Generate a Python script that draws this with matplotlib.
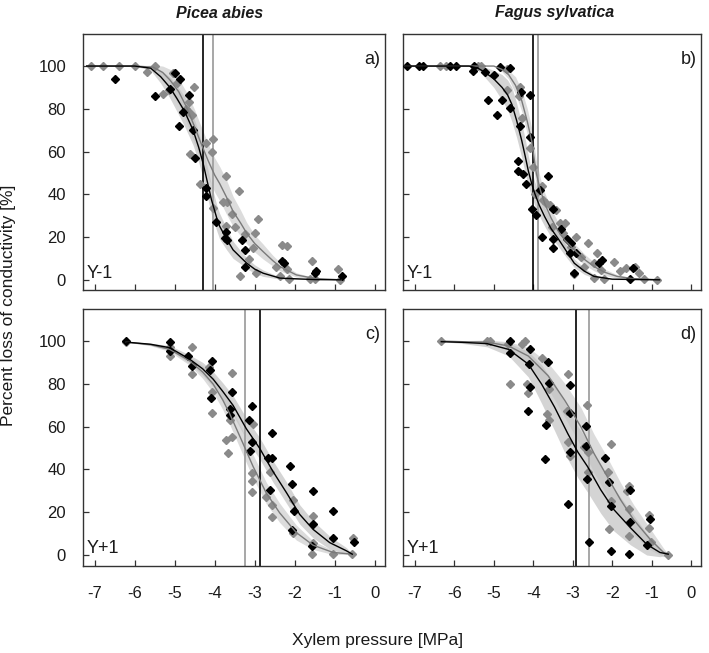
import matplotlib
matplotlib.use("Agg")
import matplotlib.pyplot as plt

plt.rcParams['font.family'] = ['Liberation Sans', 'DejaVu Sans']
plt.rcParams['axes.unicode_minus'] = False

# ---------------- data ----------------
species = ["Picea abies", "Fagus sylvatica"]
panel_letters = ["a)", "b)", "c)", "d)"]
panel_years = ["Y-1", "Y-1", "Y+1", "Y+1"]
x_ticks = [-7, -6, -5, -4, -3, -2, -1, 0]
y_ticks = [0, 20, 40, 60, 80, 100]

# panel a (Picea abies, Y-1)
a_black_x = [-6.5, -5.5, -4.88, -4.65, -4.78, -4.89, -4.54, -4.5, -4.22, -4.22, -3.96, -3.71, -3.75, -3.68,
             -3.32, -3.25, -3.25, -2.31, -2.27, -1.46, -1.5, -0.83, -5.12, -5.0]
a_black_y = [94, 86, 94, 86.4, 78.7, 72, 70, 57, 43, 39, 27, 22.6, 19.5, 18.5,
             18.7, 14, 6.2, 8.9, 7.8, 3.9, 3.1, 1.6, 89.5, 96.6]
a_gray_x = [-7.1, -6.8, -6.4, -6.0, -5.7, -5.5, -5.29, -5.14, -5.04, -4.95, -4.525, -4.65, -4.72, -4.67,
            -4.58, -4.62, -4.22, -4.04, -4.08, -4.375, -3.71, -3.39, -4.04, -3.8, -3.68, -3.58, -3.72,
            -3.5, -3.25, -3.0, -2.92, -3.04, -3.15, -3.37, -2.96, -2.31, -2.2, -2.2, -2.46, -2.37,
            -2.15, -1.58, -1.62, -1.5, -0.93, -0.87]
a_gray_y = [100, 100, 100, 100, 97, 100, 87, 89, 96.6, 92, 90, 83, 80, 79,
            77, 59, 64, 65.7, 60, 45, 48.8, 41.6, 33.5, 36.6, 36.6, 30.7, 25,
            24.5, 21.5, 22, 28.5, 14.8, 9.7, 2, 3.1, 16.4, 15.6, 5, 6.2, 1.6,
            0.5, 8.6, 0.2, 0.4, 5, 0]
a_fit_black_x = [-7.2, -6.0, -5.6, -5.35, -5.12, -4.95, -4.75, -4.54, -4.4, -4.29, -4.18, -4.08, -3.95,
                 -3.875, -3.7, -3.54, -3.35, -3.2, -3.0, -2.79, -2.37, -1.5, -0.85]
a_fit_black_y = [100, 100, 99, 95, 90, 85, 78.7, 70, 62, 54.5, 45.5, 37.4, 29,
                 25, 19, 14, 10.5, 7.8, 5, 3.1, 0.8, 0.1, 0]
a_ci_black = [0, 0, 1, 3, 5, 6, 7, 7, 7, 7, 7, 7, 6, 6, 5, 4, 3, 2.5, 2, 1.5, 0.5, 0, 0]
a_fit_gray_x = [-7.2, -6.0, -5.54, -5.3, -5.12, -4.9, -4.71, -4.5, -4.375, -4.17, -4.0, -3.875, -3.7,
                -3.54, -3.35, -3.2, -3.0, -2.79, -2.55, -2.37, -1.96, -1.5, -0.85]
a_fit_gray_y = [100, 100, 99.5, 97, 93.5, 88, 81, 71.5, 65.4, 56, 49, 45, 38.5,
                32, 26.5, 21.8, 17, 13.2, 9, 6.2, 2.3, 0.6, 0]
a_ci_gray = [0, 0, 1, 3, 5, 6, 7, 8, 8, 8, 8, 8, 8, 7, 6, 5, 4, 3.5, 2.5, 2, 1, 0.3, 0]
a_p50_black = -4.29
a_p50_gray = -4.04

# panel b (Fagus sylvatica, Y-1)
b_black_x = [-7.19, -6.9, -6.8, -6.1, -5.95, -5.5, -5.525, -5.21, -5.0, -4.83, -4.58, -4.31, -4.08,
             -5.14, -4.93, -4.78, -4.58, -4.33, -4.08, -4.375, -4.375, -4.25, -4.19, -4.04, -3.83,
             -3.625, -3.92, -3.79, -3.5, -3.29, -3.5, -3.5, -3.14, -3.04, -3.08, -2.92, -2.96,
             -2.25, -2.33, -1.475, -1.54]
b_black_y = [100, 100, 100, 100, 100, 100, 97.7, 97.4, 96, 99.5, 99.2, 88, 86.5,
             84, 77.2, 84, 80.6, 72, 66.7, 55.8, 51, 49.6, 44.6, 33.3, 41.9,
             48.5, 30.2, 20.2, 33.3, 24, 18.9, 14.7, 18.9, 17, 12.7, 12.4, 3.1,
             9.3, 7.75, 5.4, 0.3]
b_gray_x = [-6.35, -6.2, -5.4, -5.33, -4.67, -4.67, -4.33, -4.35, -4.275, -4.07, -4.0, -3.96, -3.79,
            -3.75, -3.67, -3.58, -3.42, -3.52, -3.33, -3.2, -3.25, -2.92, -3.04, -2.625, -2.79,
            -2.71, -2.98, -2.375, -2.46, -2.29, -2.46, -2.2, -1.96, -1.64, -1.42, -1.33, -1.79,
            -0.875, -1.2]
b_gray_y = [100, 100, 100, 100, 98.4, 89, 90, 86, 75.6, 61.7, 52.7, 40.3, 43.7,
            37.2, 36, 35, 32.6, 24.8, 26.7, 26.4, 22, 19.8, 15.5, 17.4, 10.9,
            6.2, 2.8, 12.7, 7.75, 4.65, 0.8, 0.3, 8.5, 5.7, 6.2, 3.1, 3.9,
            0, 0.5]
b_fit_black_x = [-7.25, -5.625, -5.4, -5.21, -5.0, -4.79, -4.65, -4.54, -4.42, -4.29, -4.2, -4.125,
                 -4.04, -3.96, -3.85, -3.71, -3.55, -3.375, -3.2, -2.96, -2.7, -2.46, -2.0, -0.8]
b_fit_black_y = [100, 100, 99, 96.9, 94, 90, 86.5, 82, 74.5, 65, 57.5, 51,
                 45, 40.3, 35, 29.5, 24, 19.4, 14.5, 7.75, 4, 1.6, 0.3, 0]
b_ci_black = [0, 0, 1, 2.5, 4, 6, 7, 8, 8, 8, 8, 7, 6, 5.5, 5, 4.5, 4, 3.5, 3, 2, 1.5, 0.8, 0.2, 0]
b_fit_gray_x = [-7.25, -5.0, -4.8, -4.625, -4.45, -4.29, -4.15, -4.04, -3.98, -3.92, -3.82, -3.71,
                -3.55, -3.375, -3.2, -2.96, -2.7, -2.46, -2.2, -1.875, -1.5, -0.8]
b_fit_gray_y = [100, 100, 98.5, 96, 91, 83.7, 74, 65, 57, 49.6, 42, 35.7,
                29, 23, 18.5, 14, 9.5, 6.2, 3.6, 1.6, 0.6, 0]
b_ci_gray = [0, 0, 1, 2, 4, 5, 6, 6, 6, 6, 5.5, 5, 4.5, 4, 3.5, 3, 2.5, 2, 1.5, 0.8, 0.3, 0]
b_p50_black = -4.0
b_p50_gray = -3.89

# panel c (Picea abies, Y+1)
c_black_x = [-6.21, -5.125, -5.11, -4.67, -4.58, -4.06, -4.11, -3.58, -4.1, -3.625, -3.61, -3.08,
             -3.14, -3.08, -3.125, -2.58, -2.67, -2.58, -2.625, -2.11, -2.06, -2.02, -2.06,
             -1.54, -1.54, -1.58, -1.04, -1.04, -0.525]
c_black_y = [100, 99.7, 95.4, 93, 88.4, 90.7, 86.4, 76.4, 73.4, 68.3, 65.2, 69.4,
             63.2, 52.9, 48.7, 57, 45.1, 45.1, 30.1, 41.7, 33.1, 20.4, 11.6,
             29.7, 14.2, 4.2, 20.4, 8.0, 6.0]
c_gray_x = [-6.21, -5.11, -5.125, -4.57, -4.58, -4.14, -3.58, -4.08, -4.06, -3.625, -3.725, -3.575,
            -3.67, -3.04, -3.08, -3.06, -3.08, -2.625, -2.71, -2.56, -2.56, -2.04, -2.04,
            -1.54, -1.54, -1.58, -1.04, -0.54, -0.56]
c_gray_y = [99.5, 93, 97, 97.2, 84.5, 88, 85, 76.4, 66.3, 63.2, 53.9, 54.9,
            47.4, 61.4, 38.5, 34.6, 29.2, 38.9, 27, 23.5, 17.8, 25.8, 10.4,
            18.1, 5.7, 0.3, 0.3, 8.0, 0.3]
c_fit_black_x = [-6.21, -5.6, -5.125, -4.625, -4.3, -4.04, -3.8, -3.54, -3.21, -2.875, -2.54, -2.2,
                 -1.875, -1.54, -1.125, -0.71, -0.56]
c_fit_black_y = [99.5, 98.5, 96.9, 91.5, 87, 82.2, 76.5, 69.9, 59, 49.8, 38.9, 28.9,
                 18.9, 11.9, 5.7, 1.9, 0.3]
c_ci_black = [0, 0.5, 1, 2, 3, 3.5, 4, 4.5, 5, 5, 5, 5, 4.5, 4, 3, 1.5, 0]
c_fit_gray_x = [-6.21, -5.6, -5.125, -4.625, -4.3, -4.04, -3.8, -3.625, -3.29, -3.04, -2.71, -2.375,
                -1.96, -1.54, -1.04, -0.56]
c_fit_gray_y = [99.5, 98.3, 96.1, 90.7, 85.5, 79.9, 72.5, 66, 52, 41.3, 28.9, 19.6,
                10.4, 4.5, 1.1, 0.3]
c_ci_gray = [0, 0.5, 1, 2, 3, 4, 4.5, 5, 5.5, 5.5, 5, 4.5, 3.5, 2, 1, 0]
c_p50_black = -2.875
c_p50_gray = -3.25

# panel d (Fagus sylvatica, Y+1)
d_black_x = [-4.58, -4.58, -4.08, -4.1, -3.625, -3.6, -3.08, -4.08, -4.14, -3.68, -3.08, -3.69,
             -3.125, -3.08, -2.67, -2.67, -2.65, -2.58, -2.17, -2.07, -2.04, -2.04, -1.56,
             -1.54, -1.58, -1.04, -1.125]
d_black_y = [100, 94.6, 96.1, 89.2, 90, 80.2, 79.6, 78.4, 67.5, 60.6, 66.3, 44.8,
             23.8, 48.2, 60.1, 50.9, 35.4, 6.0, 45.1, 34, 22.7, 1.9, 30.4,
             15.5, 0.3, 16.8, 4.5]
d_gray_x = [-6.33, -5.17, -5.1, -4.64, -4.6, -4.29, -4.22, -3.79, -3.125, -3.6, -4.17, -4.14,
            -3.65, -3.6, -3.14, -3.125, -3.08, -2.65, -2.725, -2.625, -2.625, -2.04, -2.11,
            -2.02, -2.08, -1.58, -1.625, -1.58, -1.58, -1.08, -1.06, -1.025, -0.58]
d_gray_y = [100, 100, 100, 98.5, 79.9, 98.8, 100, 92, 84.5, 77.6, 79.9, 75.6,
            66, 62.9, 67.5, 52.9, 46.2, 69.9, 50.5, 48.2, 38.9, 51.8, 38.9,
            25, 11.9, 32, 29.7, 21.5, 8.8, 18.4, 12.7, 6.0, 0]
d_fit_black_x = [-6.33, -5.8, -5.17, -4.625, -4.125, -3.79, -3.46, -3.125, -2.875, -2.625, -2.29,
                 -1.96, -1.54, -1.125, -0.79, -0.58]
d_fit_black_y = [99.7, 99.4, 98.8, 96.1, 89.2, 79.9, 69.1, 56.7, 48.2, 41.3, 30.4,
                 21.2, 12.7, 4.9, 1.1, 0.3]
d_ci_black = [0, 0.5, 1.5, 3, 6, 9, 11, 12, 12, 12, 11, 10, 8, 5, 2, 0]
d_fit_gray_x = [-6.33, -5.8, -5.17, -4.625, -4.125, -3.625, -3.2, -2.79, -2.46, -2.125, -1.79,
                -1.46, -1.04, -0.7, -0.58]
d_fit_gray_y = [100, 99.7, 99.5, 97.7, 93, 83.8, 72.2, 59.8, 47.4, 36.6, 25.8,
                16.5, 7.3, 1.1, 0.3]
d_ci_gray = [0, 0.5, 1, 2, 4, 6, 8, 9, 9, 9, 8, 7, 5, 2, 0]
d_p50_black = -2.92
d_p50_gray = -2.58

panels = [
    dict(bx=a_black_x, by=a_black_y, gx=a_gray_x, gy=a_gray_y,
         fbx=a_fit_black_x, fby=a_fit_black_y, cib=a_ci_black,
         fgx=a_fit_gray_x, fgy=a_fit_gray_y, cig=a_ci_gray,
         pb=a_p50_black, pg=a_p50_gray),
    dict(bx=b_black_x, by=b_black_y, gx=b_gray_x, gy=b_gray_y,
         fbx=b_fit_black_x, fby=b_fit_black_y, cib=b_ci_black,
         fgx=b_fit_gray_x, fgy=b_fit_gray_y, cig=b_ci_gray,
         pb=b_p50_black, pg=b_p50_gray),
    dict(bx=c_black_x, by=c_black_y, gx=c_gray_x, gy=c_gray_y,
         fbx=c_fit_black_x, fby=c_fit_black_y, cib=c_ci_black,
         fgx=c_fit_gray_x, fgy=c_fit_gray_y, cig=c_ci_gray,
         pb=c_p50_black, pg=c_p50_gray),
    dict(bx=d_black_x, by=d_black_y, gx=d_gray_x, gy=d_gray_y,
         fbx=d_fit_black_x, fby=d_fit_black_y, cib=d_ci_black,
         fgx=d_fit_gray_x, fgy=d_fit_gray_y, cig=d_ci_gray,
         pb=d_p50_black, pg=d_p50_gray),
]

# ---------------- figure ----------------
W, H = 709, 653
fig = plt.figure(figsize=(W / 100, H / 100), dpi=100)

def fx(px):
    return px / W

def fy(py):
    return 1 - py / H

lefts = [82.7, 403]
widths = [302, 298]
tops = [34, 309]
height = 256.5

GRAY_PT = '#8a8a8a'
GRAY_LINE = '#7a7a7a'
TXT = '#1a1a1a'

for i, p in enumerate(panels):
    r, c = divmod(i, 2)
    ax = fig.add_axes([fx(lefts[c]), fy(tops[r] + height), widths[c] / W, height / H])
    # confidence bands
    ax.fill_between(p['fgx'], [y - e for y, e in zip(p['fgy'], p['cig'])],
                    [y + e for y, e in zip(p['fgy'], p['cig'])],
                    color='#d6d6d6', alpha=0.85, lw=0, zorder=1)
    ax.fill_between(p['fbx'], [y - e for y, e in zip(p['fby'], p['cib'])],
                    [y + e for y, e in zip(p['fby'], p['cib'])],
                    color='#c2c2c2', alpha=0.7, lw=0, zorder=1.5)
    # points
    ax.plot(p['gx'], p['gy'], ls='none', marker='D', ms=4.5, color=GRAY_PT, mec=GRAY_PT, zorder=3)
    ax.plot(p['bx'], p['by'], ls='none', marker='D', ms=4.5, color='black', mec='black', zorder=3.5)
    # fitted curves
    ax.plot(p['fgx'], p['fgy'], color=GRAY_LINE, lw=1.0, zorder=4)
    ax.plot(p['fbx'], p['fby'], color='black', lw=1.0, zorder=4.5)
    # P50 lines
    ax.axvline(p['pg'], color='#a0a0a0', lw=1.3, zorder=2)
    ax.axvline(p['pb'], color='black', lw=1.2, zorder=2)

    ax.set_xlim(-7.3, 0.25)
    ax.set_ylim(-5, 115)
    ax.set_xticks(x_ticks)
    ax.set_yticks(y_ticks)
    ax.tick_params(direction='in', length=4, width=0.9, color='#333333',
                   labelsize=12, labelcolor=TXT)
    ax.tick_params(axis='y', pad=12)
    ax.tick_params(axis='x', pad=15)
    if c == 1:
        ax.tick_params(axis='y', labelleft=False)
    if r == 0:
        ax.tick_params(axis='x', labelbottom=False)
    for s in ax.spines.values():
        s.set_linewidth(1.0)
        s.set_color('#333333')
    ax.text(0.985, 0.9, panel_letters[i], transform=ax.transAxes, ha='right', va='center',
            fontsize=13, color=TXT)
    ax.text(0.012, 0.065, panel_years[i], transform=ax.transAxes, ha='left', va='center',
            fontsize=13, color=TXT)

fig.text(fx(220), fy(13), species[0], ha='center', va='center', fontsize=11.5,
         fontweight='bold', fontstyle='italic', color=TXT)
fig.text(fx(555), fy(13), species[1], ha='center', va='center', fontsize=11.5,
         fontweight='bold', fontstyle='italic', color=TXT)
fig.text(fx(9), fy(305), "Percent loss of conductivity [%]", rotation=90, ha='center', va='center',
         fontsize=12.5, color=TXT)
fig.text(fx(378), fy(640), "Xylem pressure [MPa]", ha='center', va='center', fontsize=12.5,
         color=TXT)

fig.savefig("out.png", dpi=100)
